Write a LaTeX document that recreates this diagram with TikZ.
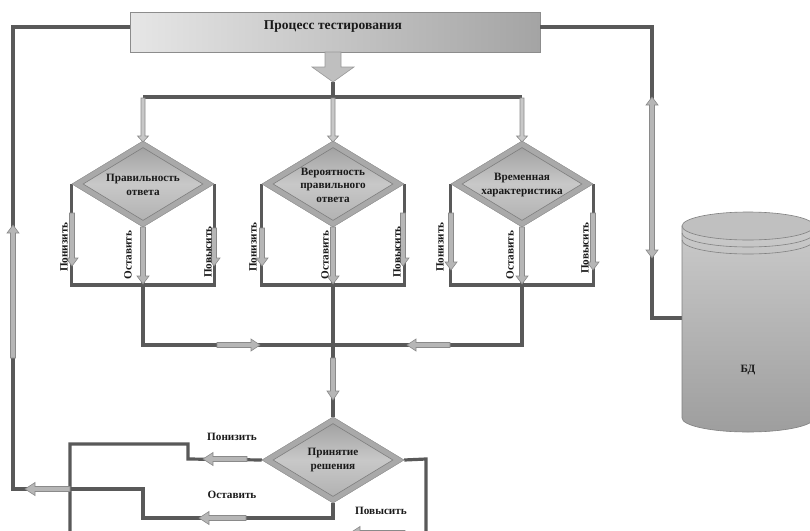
\documentclass[tikz,border=0pt]{standalone}
\usepackage{fontspec}
\setmainfont{Liberation Serif}
\usetikzlibrary{shapes.geometric}

\definecolor{linegray}{HTML}{595959}
\definecolor{arrfill}{HTML}{B6B6B6}
\definecolor{arredge}{HTML}{8A8A8A}
\definecolor{boxleft}{HTML}{E6E6E6}
\definecolor{boxright}{HTML}{A4A4A4}
\definecolor{boxedge}{HTML}{8C8C8C}
\definecolor{diaout}{HTML}{A9A9A9}
\definecolor{diaedge}{HTML}{999999}
\definecolor{diatop}{HTML}{A2A2A2}
\definecolor{diamid}{HTML}{C8C8C8}
\definecolor{diabot}{HTML}{B2B2B2}
\definecolor{diainedge}{HTML}{7E7E7E}
\definecolor{cyltop}{HTML}{CACACA}
\definecolor{cylbot}{HTML}{9E9E9E}
\definecolor{cyledge}{HTML}{808080}
\definecolor{txt}{HTML}{1A1A1A}

% axis-aligned block arrow: [style]{x tail}{y tail}{x tip}{y tip}{shaft half}{head half}{head length}
\newcommand\blk[8][]{%
  \pgfmathsetmacro\bL{veclen((#4)-(#2),(#5)-(#3))}%
  \pgfmathsetmacro\ux{((#4)-(#2))/\bL}%
  \pgfmathsetmacro\uy{((#5)-(#3))/\bL}%
  \pgfmathsetmacro\bB{\bL-(#8)}%
  \pgfmathsetmacro\bx{#2+\ux*\bB}%
  \pgfmathsetmacro\by{#3+\uy*\bB}%
  \pgfmathsetmacro\sx{-\uy*(#6)}%
  \pgfmathsetmacro\sy{\ux*(#6)}%
  \pgfmathsetmacro\hx{-\uy*(#7)}%
  \pgfmathsetmacro\hy{\ux*(#7)}%
  \filldraw[barr,#1] ({#2+\sx},{#3+\sy}) -- ({\bx+\sx},{\by+\sy}) -- ({\bx+\hx},{\by+\hy})
    -- (#4,#5) -- ({\bx-\hx},{\by-\hy}) -- ({\bx-\sx},{\by-\sy}) -- ({#2-\sx},{#3-\sy}) -- cycle;}

\begin{document}
\begin{tikzpicture}[x=1pt,y=-1pt,
  conn/.style={draw=linegray, line width=3.2pt},
  barr/.style={fill=arrfill, draw=arredge, line width=0.6pt, line join=miter},
  procbox/.style={rectangle, minimum width=410pt, minimum height=40pt, inner sep=0pt,
    left color=boxleft, right color=boxright, draw=boxedge, line width=0.8pt},
  dia/.style={diamond, minimum width=142pt, minimum height=86pt, inner sep=0pt,
    fill=diaout, draw=diaedge, line width=0.5pt},
  diain/.style={diamond, minimum width=120pt, minimum height=73pt, inner sep=0pt,
    top color=diatop, bottom color=diabot, middle color=diamid, draw=diainedge, line width=0.6pt},
  dtext/.style={font=\fontsize{11.2}{13.5}\selectfont\bfseries, align=center, text=txt, inner sep=0pt},
  slab/.style={font=\fontsize{11.2}{12}\selectfont\bfseries, text=txt, inner sep=0pt},
  ]
\useasboundingbox (0,0) rectangle (810,530);

% ---------- nodes ----------
\node[procbox] (proc) at (335,32) {};
\node[dia] (d1) at (143,184) {};
\node[dia] (d2) at (333,184) {};
\node[dia] (d3) at (522,184) {};
\node[dia] (d4) at (333,460) {};
\node[minimum width=132pt, minimum height=192pt, inner sep=0pt] (db) at (748,322) {};

\coordinate (split) at (333,97);
\coordinate (merge) at (333,345);
\coordinate (dbin) at (db.west |- 0,318);

% ---------- connectors ----------
% feedback to the left and link to the database
\draw[conn] ([yshift=5pt]proc.west) -| (13,489) -- (143,489) |- (333,518) -- (d4.south);
\draw[conn] ([yshift=5pt]proc.east) -| (652,318) -- (dbin);
% fan-out to the three criteria
\draw[conn] (333,82) -- (split);
\draw[conn] (143,97) -- (522,97);
% outputs of each criterion
\foreach \d in {d1,d2,d3}{
  \draw[conn] (\d.west) -- ++(0,101) -| (\d.east);
}
\draw[conn] (d1.south) -- (143,345) -- (522,345) -- (d3.south);
\draw[conn] (d2.south) -- (d4.north);
% decision outputs
\draw[conn] (d4.west) -- (188,459) -- (188,444) -- (70,444) -- (70,540);
\draw[conn] (d4.east) -- (426,459) -- (426,540);

% ---------- diamonds ----------
\foreach \d in {d1,d2,d3,d4}{
  \node[dia] at (\d.center) {};
  \node[diain] at (\d.center) {};
}

% ---------- block arrows ----------
\blk[fill=boxright!70!white, draw=diaedge]{333}{52}{333}{82}{8}{21}{15}
\foreach \x in {143,333,522}{
  \blk[fill=diamid]{\x}{98}{\x}{142}{2}{5.5}{6}
}
% criterion 1
\blk{72}{213}{72}{266}{2.5}{6}{8}
\blk{143}{227}{143}{284}{2.5}{6}{8}
\blk{214}{228}{214}{266}{2.5}{6}{8}
% criterion 2
\blk{262}{228}{262}{266}{2.5}{6}{8}
\blk{333}{227}{333}{284}{2.5}{6}{8}
\blk{403}{213}{403}{266}{2.5}{6}{8}
% criterion 3
\blk{451}{213}{451}{270}{2.5}{6}{8}
\blk{522}{227}{522}{284}{2.5}{6}{8}
\blk{593}{213}{593}{270}{2.5}{6}{8}
% merge
\blk{217}{345}{260}{345}{2.5}{6}{9}
\blk{450}{345}{407}{345}{2.5}{6}{9}
\blk{333}{358}{333}{400}{2.5}{6}{9}
% decision
\blk{247}{459}{203}{459}{2.5}{6.5}{10}
\blk{246}{518}{199}{518}{2.5}{6.5}{10}
\blk{405}{533}{350}{533}{2.5}{6.5}{10}
\blk{70}{489}{25}{489}{2.5}{6.5}{10}
\blk{13}{358}{13}{225}{2.5}{6}{8}
% two-way link to the database
\filldraw[barr] (649.5,105) -- (649.5,250) -- (646,250) -- (652,258) -- (658,250) -- (654.5,250)
  -- (654.5,105) -- (658,105) -- (652,97) -- (646,105) -- cycle;

% ---------- database cylinder ----------
\path[top color=cyltop, bottom color=cylbot, draw=cyledge, line width=0.6pt]
  (682,226) -- (682,418) arc[start angle=180, end angle=0, x radius=66, y radius=14]
  -- (814,226) -- cycle;
\filldraw[fill=cyltop!95!black, draw=cyledge, line width=0.6pt] (748,226) ellipse [x radius=66, y radius=14];
\draw[cyledge, line width=0.6pt] (682,233) arc[start angle=180, end angle=0, x radius=66, y radius=14];
\draw[cyledge, line width=0.6pt] (682,240) arc[start angle=180, end angle=0, x radius=66, y radius=14];

% ---------- texts ----------
\node[font=\fontsize{13.5}{15}\selectfont\bfseries, text=txt, inner sep=0pt] (proct) at (333,27) {Процесс тестирования};
\node[dtext] (t1) at (143,185) {Правильность\\ответа};
\node[dtext] (t2) at (333,185) {Вероятность\\правильного\\ответа};
\node[dtext] (t3) at (522,185) {Временная\\характеристика};
\node[dtext] (t4) at (333,460) {Принятие\\решения};
\node[dtext] (tdb) at (748,370) {БД};

\node[slab, rotate=90] (l1a) at (64,247) {Понизить};
\node[slab, rotate=90] (l1b) at (128,255) {Оставить};
\node[slab, rotate=90] (l1c) at (208,252) {Повысить};
\node[slab, rotate=90] (l2a) at (253,247) {Понизить};
\node[slab, rotate=90] (l2b) at (325,255) {Оставить};
\node[slab, rotate=90] (l2c) at (397,252) {Повысить};
\node[slab, rotate=90] (l3a) at (440,247) {Понизить};
\node[slab, rotate=90] (l3b) at (510,255) {Оставить};
\node[slab, rotate=90] (l3c) at (585,248) {Повысить};

\node[slab] (b1) at (232,437) {Понизить};
\node[slab] (b2) at (232,495) {Оставить};
\node[slab] (b3) at (381,511) {Повысить};
\end{tikzpicture}
\end{document}
